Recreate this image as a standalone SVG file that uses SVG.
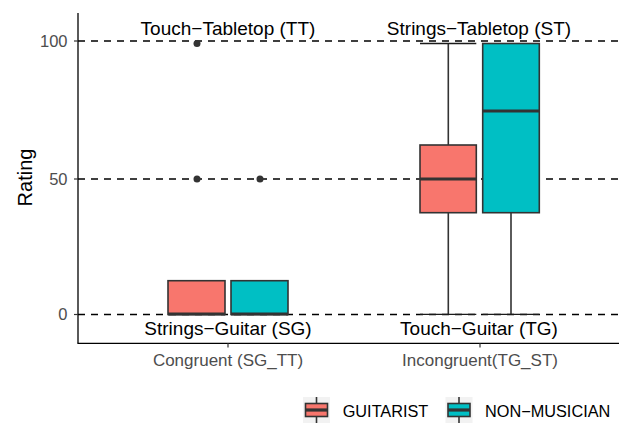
<svg xmlns="http://www.w3.org/2000/svg" width="619" height="425" viewBox="0 0 619 425">
  <style>
    text { font-family: "Liberation Sans", Arial, sans-serif; }
    .ref { stroke: #000; stroke-width: 1.6; stroke-dasharray: 7 6; fill: none; }
    .box { stroke: #333333; stroke-width: 1.6; }
    .g { fill: #F8766D; }
    .n { fill: #00BFC4; }
    .med { stroke: #333333; stroke-width: 3.2; }
    .wh { stroke: #333333; stroke-width: 1.6; fill: none; }
    .cap { stroke: #1a1a1a; stroke-width: 1.3; }
    .pt { fill: #333333; }
    .axis { stroke: #000; stroke-width: 1.3; fill: none; }
    .tick { stroke: #333333; stroke-width: 1.2; }
    .ytl { font-size: 16.5px; fill: #4d4d4d; text-anchor: end; }
    .xtl { font-size: 17px; fill: #4d4d4d; text-anchor: middle; }
    .ann { font-size: 19px; fill: #000; text-anchor: middle; }
    .leg { font-size: 16.3px; fill: #000; }
  </style>

  <rect width="619" height="425" fill="#ffffff"/>

  <!-- reference lines -->
  <g id="reference-lines">
    <line class="ref" x1="78" y1="41" x2="619" y2="41"/>
    <line class="ref" x1="78" y1="179" x2="619" y2="179"/>
    <line class="ref" x1="78" y1="314.5" x2="619" y2="314.5"/>
  </g>

  <!-- Congruent group -->
  <g id="congruent-guitarist">
    <rect class="box g" x="168" y="280.7" width="57" height="33.8"/>
    <line class="med" x1="168" y1="314" x2="225" y2="314"/>
    <circle class="pt" cx="197" cy="43.5" r="3.5"/>
    <circle class="pt" cx="197" cy="179" r="3.5"/>
  </g>
  <g id="congruent-nonmusician">
    <rect class="box n" x="231" y="280.7" width="57" height="33.8"/>
    <line class="med" x1="231" y1="314" x2="288" y2="314"/>
    <circle class="pt" cx="260" cy="179" r="3.5"/>
  </g>

  <!-- Incongruent group -->
  <g id="incongruent-guitarist">
    <line class="wh" x1="448.3" y1="43.5" x2="448.3" y2="145"/>
    <line class="wh" x1="448.3" y1="212.7" x2="448.3" y2="314.5"/>
    <line class="cap" x1="420" y1="43.5" x2="476.3" y2="43.5"/>
    <line class="cap" x1="420" y1="314.3" x2="476.3" y2="314.3"/>
    <rect class="box g" x="420" y="145" width="56.3" height="67.7"/>
    <line class="med" x1="420" y1="179" x2="476.3" y2="179"/>
  </g>
  <g id="incongruent-nonmusician">
    <line class="wh" x1="511" y1="212.7" x2="511" y2="314.5"/>
    <line class="cap" x1="482.7" y1="314.3" x2="539.3" y2="314.3"/>
    <rect class="box n" x="482.7" y="43.5" width="56.6" height="169.2"/>
    <line class="med" x1="482.7" y1="111" x2="539.3" y2="111"/>
  </g>

  <!-- condition labels -->
  <g id="labels">
    <text class="ann" x="228" y="35">Touch−Tabletop (TT)</text>
    <text class="ann" x="479" y="35">Strings−Tabletop (ST)</text>
    <text class="ann" x="228" y="335">Strings−Guitar (SG)</text>
    <text class="ann" x="479" y="335">Touch−Guitar (TG)</text>
  </g>

  <!-- axes -->
  <g id="axes">
    <line class="axis" x1="78" y1="13" x2="78" y2="343.3"/>
    <line class="axis" x1="77.4" y1="343.3" x2="619" y2="343.3"/>
    <line class="tick" x1="74" y1="41" x2="78" y2="41"/>
    <line class="tick" x1="74" y1="179" x2="78" y2="179"/>
    <line class="tick" x1="74" y1="314.5" x2="78" y2="314.5"/>
    <line class="tick" x1="228" y1="343.3" x2="228" y2="347.5"/>
    <line class="tick" x1="480" y1="343.3" x2="480" y2="347.5"/>
    <text class="ytl" x="67.5" y="46.8">100</text>
    <text class="ytl" x="67.5" y="184.8">50</text>
    <text class="ytl" x="67.5" y="320.3">0</text>
    <text class="xtl" x="228" y="365.5">Congruent (SG_TT)</text>
    <text class="xtl" x="480" y="365.5">Incongruent(TG_ST)</text>
    <text font-size="20px" fill="#000" text-anchor="middle" transform="translate(32 177.5) rotate(-90)">Rating</text>
  </g>

  <!-- legend -->
  <g id="legend">
    <rect x="303" y="397" width="27" height="26" fill="#f2f2f2"/>
    <line class="wh" x1="316.5" y1="397" x2="316.5" y2="423"/>
    <rect class="box g" x="305.5" y="403.5" width="22" height="13"/>
    <line class="med" x1="305.5" y1="410" x2="327.5" y2="410"/>
    <text class="leg" x="342.7" y="416.5">GUITARIST</text>

    <rect x="445.5" y="397" width="27" height="26" fill="#f2f2f2"/>
    <line class="wh" x1="459" y1="397" x2="459" y2="423"/>
    <rect class="box n" x="448" y="403.5" width="22" height="13"/>
    <line class="med" x1="448" y1="410" x2="470" y2="410"/>
    <text class="leg" x="485" y="416.5">NON−MUSICIAN</text>
  </g>
</svg>
